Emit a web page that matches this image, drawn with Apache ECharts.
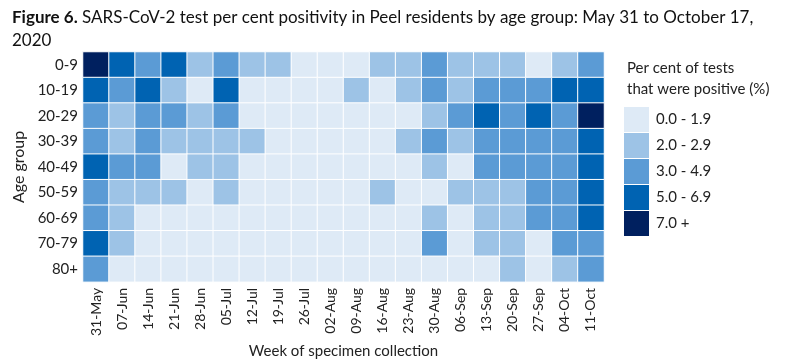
<!DOCTYPE html>
<html>
<head>
<meta charset="utf-8">
<script src="https://cdn.jsdelivr.net/npm/echarts@6/dist/echarts.min.js"></script>
<style>html,body{margin:0;padding:0;background:#fff}#c{width:790px;height:364px}</style>
</head>
<body>
<div id="c"></div>
<script>
const weeks = ['31-May','07-Jun','14-Jun','21-Jun','28-Jun','05-Jul','12-Jul','19-Jul','26-Jul','02-Aug','09-Aug','16-Aug','23-Aug','30-Aug','06-Sep','13-Sep','20-Sep','27-Sep','04-Oct','11-Oct'];
const ageGroups = ['0-9','10-19','20-29','30-39','40-49','50-59','60-69','70-79','80+'];
// estimated per cent positivity per age group (rows) and week (columns)
const pos_0_9   = [8.0,5.6,3.8,5.4,2.4,3.6,2.3,2.2,1.2,1.0,1.1,2.3,2.4,3.9,2.5,2.4,2.3,1.6,2.5,3.8];
const pos_10_19 = [5.8,3.9,5.5,2.5,1.4,5.7,1.2,1.1,1.0,0.9,2.2,1.3,2.3,3.8,2.4,3.7,3.6,3.9,5.6,6.1];
const pos_20_29 = [4.1,2.6,4.0,3.9,2.5,3.8,1.3,1.2,1.1,1.0,1.2,1.3,1.4,2.8,4.2,6.0,4.4,6.2,4.6,8.2];
const pos_30_39 = [3.9,2.5,3.8,2.6,2.4,2.6,2.3,1.2,1.0,0.9,1.1,1.2,2.5,3.7,2.8,4.0,4.1,4.3,4.5,6.3];
const pos_40_49 = [5.9,3.6,3.7,1.5,2.5,2.6,1.3,1.1,1.0,0.9,1.0,1.2,1.4,2.7,1.8,4.1,4.2,4.4,4.6,6.4];
const pos_50_59 = [3.7,2.4,2.5,2.6,1.6,2.4,1.1,1.0,0.9,0.8,1.1,2.4,1.3,1.7,2.6,2.7,2.8,4.1,4.4,6.2];
const pos_60_69 = [3.8,2.3,1.2,1.1,1.0,1.1,1.0,0.9,0.8,0.7,0.9,1.1,1.2,2.6,1.5,2.5,2.7,4.0,4.2,6.0];
const pos_70_79 = [5.5,2.2,1.1,1.0,0.9,1.0,0.8,0.7,0.9,0.8,1.0,1.1,1.2,3.9,1.4,2.6,2.8,1.5,4.3,4.5];
const pos_80p   = [3.6,1.3,1.0,0.9,0.8,0.7,0.9,0.8,0.7,0.6,0.9,1.0,1.1,1.2,1.3,1.4,2.6,1.6,2.4,4.2];
const rows = [pos_0_9,pos_10_19,pos_20_29,pos_30_39,pos_40_49,pos_50_59,pos_60_69,pos_70_79,pos_80p];
const legendLabels = ['0.0 - 1.9','2.0 - 2.9','3.0 - 4.9','5.0 - 6.9','7.0 +'];

const data = [];
rows.forEach((r, yi) => r.forEach((v, xi) => data.push([xi, yi, v])));

const font = 'Lato, "Noto Sans", sans-serif';
const chart = echarts.init(document.getElementById('c'));
chart.setOption({
  animation: false,
  textStyle: {fontFamily: font},
  title: [{
    left: 7, top: 1,
    text: '{b|Figure 6.} SARS-CoV-2 test per cent positivity in Peel residents by age group: May 31 to October 17,\n2020',
    textStyle: {fontFamily: font, fontSize: 17, fontWeight: 'normal', color: '#111', lineHeight: 23,
      rich: {b: {fontFamily: font, fontSize: 17, fontWeight: 'bold', color: '#111', lineHeight: 23}}}
  }, {
    left: 622, top: 53,
    text: 'Per cent of tests\nthat were positive (%)',
    textStyle: {fontFamily: font, fontSize: 15, fontWeight: 'normal', color: '#222', lineHeight: 21}
  }],
  grid: {left: 83, right: 186, top: 52, bottom: 77},
  xAxis: {
    type: 'category', data: weeks,
    name: 'Week of specimen collection', nameLocation: 'middle', nameGap: 58,
    nameTextStyle: {fontSize: 15, color: '#222', fontFamily: font},
    axisLine: {show: false}, axisTick: {show: false}, splitArea: {show: false},
    axisLabel: {rotate: 90, fontSize: 14, color: '#222', margin: 6, interval: 0, fontFamily: font}
  },
  yAxis: {
    type: 'category', data: ageGroups, inverse: true,
    name: 'Age group', nameLocation: 'middle', nameGap: 54,
    nameTextStyle: {fontSize: 16, color: '#222', fontFamily: font},
    axisLine: {show: false}, axisTick: {show: false},
    axisLabel: {fontSize: 15, color: '#222', margin: 5, fontFamily: font}
  },
  visualMap: {
    type: 'piecewise', dimension: 2,
    left: 609, top: 92, orient: 'vertical', inverse: true, align: 'left',
    itemWidth: 25, itemHeight: 25, itemGap: 1, itemSymbol: 'rect', textGap: 7,
    showLabel: true, selectedMode: false,
    textStyle: {fontSize: 15, color: '#222', fontFamily: font},
    pieces: [
      {min: 0, lt: 2, label: legendLabels[0], color: '#deeaf6'},
      {gte: 2, lt: 3, label: legendLabels[1], color: '#9dc3e6'},
      {gte: 3, lt: 5, label: legendLabels[2], color: '#5b9bd5'},
      {gte: 5, lt: 7, label: legendLabels[3], color: '#0063b2'},
      {gte: 7, label: legendLabels[4], color: '#00205f'}
    ]
  },
  series: [{
    type: 'heatmap', data: data,
    itemStyle: {borderColor: '#fff', borderWidth: 1}
  }]
});
</script>
</body>
</html>
